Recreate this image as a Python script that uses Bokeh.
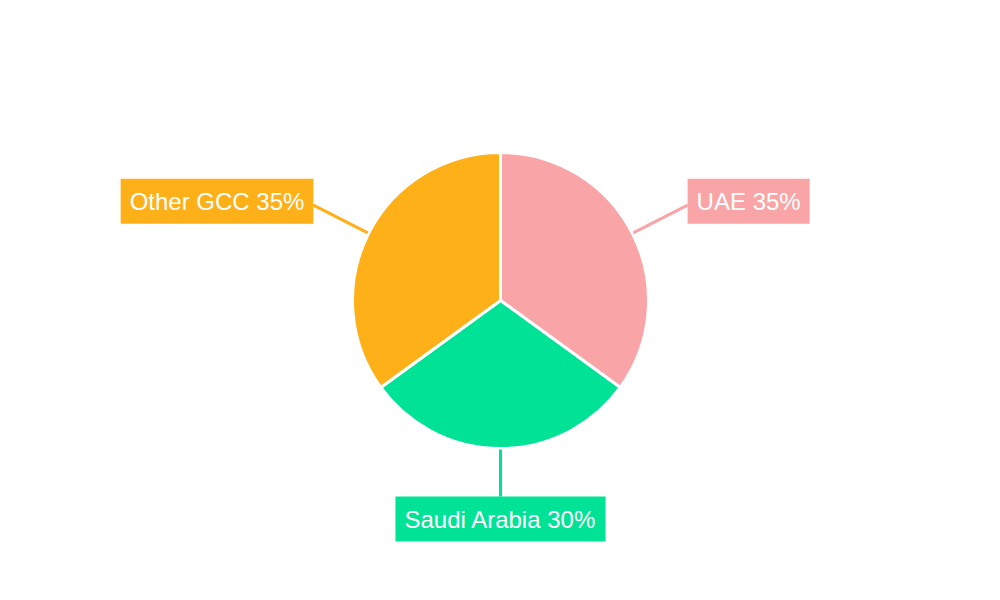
import numpy as np
from bokeh.plotting import figure
from bokeh.models import Range1d, Label
from bokeh.embed import file_html
from bokeh.resources import INLINE

# Data
regions = ["UAE", "Saudi Arabia", "Other GCC"]
shares = [35, 30, 35]
colors = ["#F9A5A7", "#00E396", "#FEB019"]

# Layout (screen-like coordinates: y = 600 - pixel row)
cx, cy, r = 500, 300, 148
lead = [62, 48, 62]

p = figure(
    width=984,
    height=584,
    x_range=Range1d(0, 984),
    y_range=Range1d(16, 600),
    output_backend="svg",
    toolbar_location=None,
    tools="",
    min_border=0,
)
p.axis.visible = False
p.grid.visible = False
p.outline_line_color = None
p.background_fill_color = "white"

total = sum(shares)
cum = np.cumsum([0] + shares) / total
for i, name in enumerate(regions):
    a0 = np.pi / 2 - cum[i] * 2 * np.pi
    a1 = np.pi / 2 - cum[i + 1] * 2 * np.pi
    p.wedge(x=cx, y=cy, radius=r, start_angle=a1, end_angle=a0,
            fill_color=colors[i], line_color="white", line_width=3)

    mid = (a0 + a1) / 2
    dx, dy = np.cos(mid), np.sin(mid)
    x0, y0 = cx + (r + 1) * dx, cy + (r + 1) * dy
    x1, y1 = cx + (r + lead[i]) * dx, cy + (r + lead[i]) * dy
    p.line([x0, x1], [y0, y1], line_color=colors[i], line_width=3)

    if abs(dx) < 0.3:
        anchor, ly = "top_center", y1
    elif dx > 0:
        anchor, ly = "center_left", y1 + 4
    else:
        anchor, ly = "center_right", y1 + 4
    p.add_layout(Label(
        x=x1, y=ly, text=f"{name} {shares[i]}%", anchor=anchor,
        text_font="Liberation Sans", text_font_size="24px", text_color="white",
        background_fill_color=colors[i], padding=9,
    ))

open("out.html", "w").write(file_html(p, INLINE))
